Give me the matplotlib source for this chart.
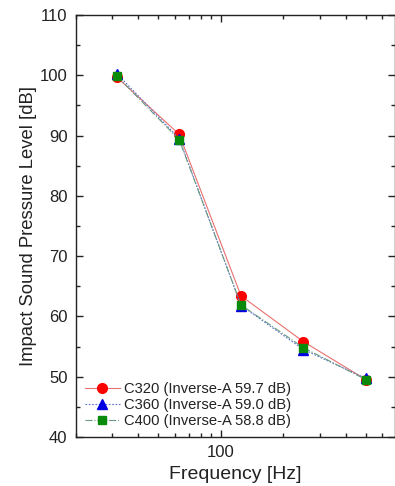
import numpy as np
import matplotlib.pyplot as plt
from matplotlib.ticker import FixedLocator, NullFormatter, MultipleLocator

plt.rcParams['font.family'] = ['Liberation Sans', 'DejaVu Sans']

# octave band centre frequencies and measured levels
freq = [31.5, 63, 125, 250, 500]
c320 = [99.7, 90.2, 63.4, 55.8, 49.5]
c360 = [100.3, 89.5, 61.8, 54.5, 49.7]
c400 = [99.9, 89.3, 61.9, 54.8, 49.5]

labels = ['C320 (Inverse-A 59.7 dB)',
          'C360 (Inverse-A 59.0 dB)',
          'C400 (Inverse-A 58.8 dB)']

fig = plt.figure(figsize=(3.95, 4.86), dpi=100)
ax = fig.add_axes([0.192, 0.101, 0.808, 0.868])

ax.plot(freq, c320, color='#e8706e', lw=0.8, ls='-',
        marker='o', ms=7, mfc='red', mec='red', label=labels[0])
ax.plot(freq, c360, color='#5a6fd0', lw=0.8, ls=(0, (1.5, 1.5)),
        marker='^', ms=7, mfc='#0000e0', mec='#0000e0', label=labels[1])
ax.plot(freq, c400, color='#6a9a80', lw=0.8, ls='-.',
        marker='s', ms=6, mfc='#0a8a0a', mec='#0a8a0a', label=labels[2])

ax.set_xscale('log')
ax.set_xlim(20, 690)
ax.set_ylim(40, 110)

ax.xaxis.set_major_locator(FixedLocator([100]))
ax.xaxis.set_minor_locator(FixedLocator([20, 30, 40, 50, 60, 70, 80, 90,
                                         200, 300, 400, 500, 600]))
ax.xaxis.set_minor_formatter(NullFormatter())
ax.set_xticklabels(['100'])
ax.yaxis.set_major_locator(MultipleLocator(10))
ax.yaxis.set_minor_locator(MultipleLocator(5))

ax.tick_params(which='both', direction='in', top=True, right=True,
               labelsize=12, colors='#222222')
ax.tick_params(which='major', length=5, width=1, pad=6)
ax.tick_params(which='minor', length=3, width=1)
for s in ax.spines.values():
    s.set_linewidth(1.0)
    s.set_color('#222222')

ax.set_xlabel('Frequency [Hz]', fontsize=14, color='#222222', labelpad=4)
ax.set_ylabel('Impact Sound Pressure Level [dB]', fontsize=13.3,
              color='#222222', labelpad=2)

ax.legend(loc='lower left', frameon=False, fontsize=10.6, handlelength=2.4,
          handletextpad=0.3, labelspacing=0.15, borderaxespad=0.2,
          labelcolor='#222222')

fig.savefig('out.png', dpi=100)
